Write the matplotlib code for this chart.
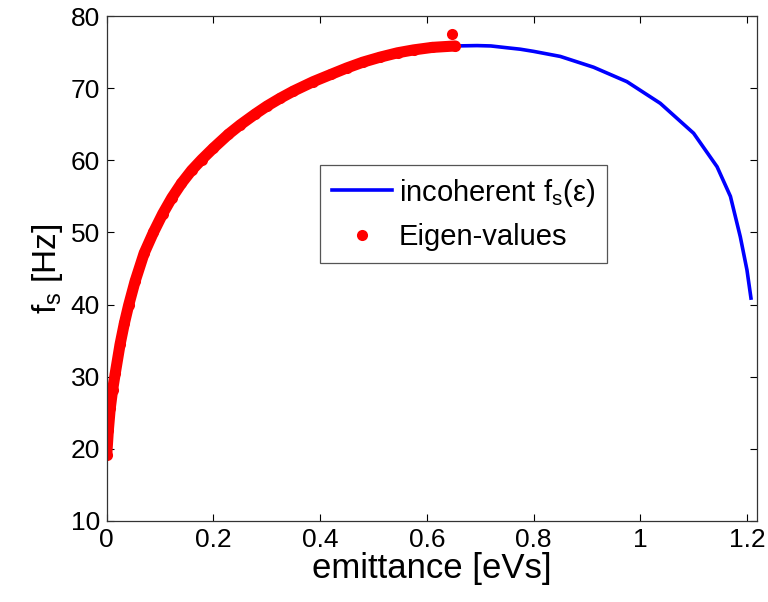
import matplotlib.pyplot as plt

plt.rcParams["font.family"] = ["Liberation Sans", "DejaVu Sans"]
plt.rcParams["mathtext.fontset"] = "custom"
plt.rcParams["mathtext.rm"] = "Liberation Sans"
plt.rcParams["mathtext.it"] = "Liberation Sans"

# eigen-values, dense along the curve up to ~0.65 eVs
eig_emit = [0.0, 0.003, 0.0065, 0.011, 0.016, 0.025, 0.033, 0.041, 0.053,
            0.07, 0.0875, 0.105, 0.122, 0.14, 0.159, 0.178, 0.2, 0.228, 0.25,
            0.278, 0.3, 0.325, 0.35, 0.387, 0.42, 0.45, 0.48, 0.5125, 0.545,
            0.575, 0.61, 0.653]
eig_fs = [19.2, 22.6, 25.6, 28.2, 30.5, 34.5, 37.4, 39.9, 43.2,
          47.1, 50.0, 52.6, 54.8, 56.8, 58.6, 60.1, 61.7, 63.6, 64.9,
          66.4, 67.5, 68.6, 69.6, 70.9, 71.9, 72.8, 73.6, 74.3, 74.9,
          75.3, 75.65, 75.85]
outlier_emit = [0.647]
outlier_fs = [77.5]

# incoherent synchrotron frequency beyond the eigen-values
tail_emit = [0.694, 0.72, 0.75, 0.775, 0.8, 0.85, 0.9125, 0.975, 1.0375,
             1.1, 1.144, 1.169, 1.1875, 1.2, 1.2075]
tail_fs = [75.9, 75.85, 75.6, 75.4, 75.1, 74.4, 72.9, 70.9, 67.9,
           63.75, 59.1, 55.0, 49.4, 44.8, 40.9]

emit = eig_emit + tail_emit
fs_incoh = eig_fs + tail_fs

fig = plt.figure(figsize=(7.68, 6.02), dpi=100)
ax = fig.add_axes([0.139, 0.1346, 0.8468, 0.8388])

ax.plot(emit, fs_incoh, color="blue", lw=2.6, label=r"incoherent f$_\mathrm{s}$(ε)")
ax.plot(eig_emit, eig_fs, color="red", lw=8, solid_capstyle="round",
        solid_joinstyle="round")
ax.plot(eig_emit + outlier_emit, eig_fs + outlier_fs, "o", color="red", ms=8,
        mew=0, label="Eigen-values")

ax.set_xlim(0, 1.219)
ax.set_ylim(10, 80)
ax.set_xticks([0, 0.2, 0.4, 0.6, 0.8, 1.0, 1.2])
ax.set_xticklabels(["0", "0.2", "0.4", "0.6", "0.8", "1", "1.2"])
ax.set_yticks(range(10, 81, 10))
ax.tick_params(direction="in", top=True, right=True, length=5, labelsize=19,
               width=0.8, pad=5)
for s in ax.spines.values():
    s.set_linewidth(0.9)
    s.set_color("#333333")

ax.set_xlabel("emittance [eVs]", fontsize=25, labelpad=0)
ax.set_ylabel(r"f$_\mathrm{s}$ [Hz]", fontsize=24, labelpad=4)

leg = ax.legend(loc="upper left", bbox_to_anchor=(0.328, 0.705), fontsize=21,
                fancybox=False, edgecolor="#555555", framealpha=1,
                handlelength=2.05, borderpad=0.4, labelspacing=0.5,
                handletextpad=0.25, borderaxespad=0)
leg.get_frame().set_linewidth(0.9)

fig.savefig("out.png", dpi=100)
